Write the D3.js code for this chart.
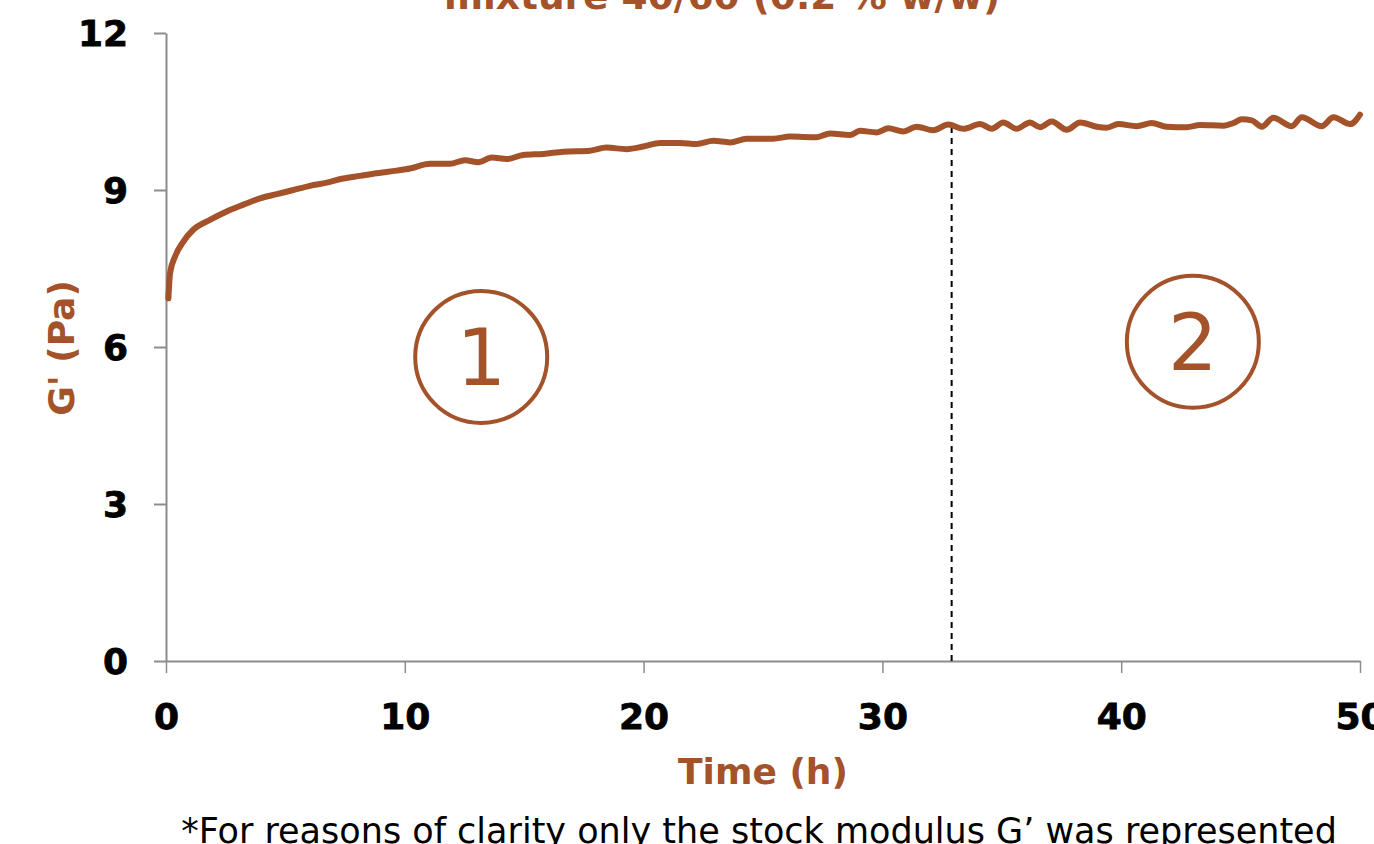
<!DOCTYPE html>
<html>
<head>
<meta charset="utf-8">
<script src="https://cdn.jsdelivr.net/npm/d3@7"></script>
<style>
  html, body { margin: 0; padding: 0; background: #fff; overflow: hidden; }
  svg { display: block; }
</style>
</head>
<body>
<svg id="chart" width="1374" height="844"></svg>
<script>
// ---- data ----
const titleText = "mixture 40/60 (0.2 % w/w)";
const xLabel = "Time (h)";
const yLabel = "G' (Pa)";
const footnote = "*For reasons of clarity only the stock modulus G\u2019 was represented";
const xTicks = [0, 10, 20, 30, 40, 50];
const yTicks = [0, 3, 6, 9, 12];
const time = [0.10, 0.17, 0.38, 0.72, 1.14, 1.84, 2.54, 3.24, 3.94, 4.64, 5.33, 6.03, 6.73, 7.42, 8.12, 8.82, 9.66, 10.22, 11.06, 11.89, 12.52, 13.08, 13.64, 14.27, 14.96, 15.80, 16.64, 17.76, 18.45, 19.29, 19.99, 20.69, 21.52, 22.22, 22.92, 23.62, 24.32, 25.43, 26.13, 27.25, 27.81, 28.64, 29.06, 29.76, 30.25, 30.87, 31.43, 32.13, 32.76, 33.39, 34.09, 34.58, 35.06, 35.62, 36.18, 36.60, 37.09, 37.72, 38.28, 38.97, 39.39, 39.88, 40.65, 41.28, 41.90, 42.74, 43.30, 44.28, 44.70, 45.05, 45.47, 45.89, 46.37, 47.14, 47.56, 48.40, 48.89, 49.59, 50.0];
const gPrime = [6.93, 7.41, 7.73, 8.01, 8.24, 8.43, 8.59, 8.72, 8.84, 8.92, 9.00, 9.08, 9.14, 9.22, 9.27, 9.32, 9.37, 9.41, 9.50, 9.50, 9.57, 9.53, 9.62, 9.59, 9.67, 9.69, 9.73, 9.75, 9.81, 9.78, 9.83, 9.90, 9.90, 9.88, 9.94, 9.91, 9.98, 9.98, 10.02, 10.01, 10.08, 10.05, 10.13, 10.10, 10.18, 10.12, 10.21, 10.14, 10.25, 10.17, 10.26, 10.17, 10.29, 10.17, 10.29, 10.20, 10.31, 10.15, 10.29, 10.21, 10.19, 10.26, 10.22, 10.28, 10.21, 10.20, 10.24, 10.23, 10.28, 10.35, 10.33, 10.21, 10.38, 10.22, 10.39, 10.22, 10.39, 10.26, 10.44];
const phaseBoundary = { t: 32.9, top: 10.19 };
const zoneLabels = ["1", "2"];
const zoneT = [13.2, 43.0];
const zoneG = [5.81, 6.10];

// ---- styles ----
const accent = "#A4522A";
const axisColor = "#8c8c8c";
const fontFamily = "'DejaVu Sans', Verdana, sans-serif";

const svg = d3.select("#chart");
const margin = { left: 166, right: 14, top: 33, bottom: 183 };
const W = 1374, H = 844;

const x = d3.scaleLinear().domain([0, 50]).range([margin.left, W - margin.right]);
const y = d3.scaleLinear().domain([0, 12]).range([H - margin.bottom, margin.top]);

// y axis
const yAxis = svg.append("g")
  .attr("transform", `translate(${x(0)},0)`)
  .call(d3.axisLeft(y).tickValues(yTicks).tickSize(12).tickSizeOuter(0).tickPadding(26));
yAxis.select(".domain").attr("stroke", axisColor).attr("stroke-width", 2);
yAxis.selectAll(".tick line").attr("stroke", axisColor).attr("stroke-width", 2);
yAxis.selectAll(".tick text")
  .attr("font-family", fontFamily).attr("font-weight", "bold")
  .attr("font-size", 36).attr("fill", "#000")
  .attr("stroke", "#000").attr("stroke-width", 0.8)
  .attr("dy", "0.36em");

// x axis
const xAxis = svg.append("g")
  .attr("transform", `translate(0,${y(0)})`)
  .call(d3.axisBottom(x).tickValues(xTicks).tickSize(12).tickSizeOuter(0).tickPadding(30));
xAxis.select(".domain").attr("stroke", axisColor).attr("stroke-width", 2);
xAxis.selectAll(".tick line").attr("stroke", axisColor).attr("stroke-width", 1.5);
xAxis.selectAll(".tick text")
  .attr("font-family", fontFamily).attr("font-weight", "bold")
  .attr("font-size", 36).attr("fill", "#000")
  .attr("stroke", "#000").attr("stroke-width", 0.8);

// dashed boundary
svg.append("line")
  .attr("x1", x(phaseBoundary.t)).attr("x2", x(phaseBoundary.t))
  .attr("y1", y(0)).attr("y2", y(phaseBoundary.top))
  .attr("stroke", "#000").attr("stroke-width", 2)
  .attr("stroke-dasharray", "6,5");

// curve
const pts = time.map((t, i) => [t, gPrime[i]]);
svg.append("path")
  .datum(pts)
  .attr("fill", "none")
  .attr("stroke", accent)
  .attr("stroke-width", 6)
  .attr("stroke-linejoin", "round")
  .attr("stroke-linecap", "round")
  .attr("d", d3.line().x(d => x(d[0])).y(d => y(d[1])).curve(d3.curveMonotoneX));

// zone circles
zoneLabels.forEach((lab, i) => {
  const cx = x(zoneT[i]), cy = y(zoneG[i]);
  svg.append("circle").attr("cx", cx).attr("cy", cy).attr("r", 66)
    .attr("fill", "none").attr("stroke", accent).attr("stroke-width", 4);
  svg.append("text").attr("x", cx).attr("y", cy)
    .attr("text-anchor", "middle").attr("dy", "0.36em")
    .attr("font-family", fontFamily).attr("font-size", 78)
    .attr("fill", accent).text(lab);
});

// title (cut off at top)
svg.append("text")
  .attr("x", 722).attr("y", 9)
  .attr("text-anchor", "middle")
  .attr("font-family", fontFamily).attr("font-weight", "bold")
  .attr("font-size", 37.5).attr("fill", accent)
  .text(titleText);

// x label
svg.append("text")
  .attr("x", 763).attr("y", 784)
  .attr("text-anchor", "middle")
  .attr("font-family", fontFamily).attr("font-weight", "bold")
  .attr("font-size", 36).attr("fill", accent)
  .text(xLabel);

// y label
svg.append("text")
  .attr("transform", `translate(74,348) rotate(-90)`)
  .attr("text-anchor", "middle")
  .attr("font-family", fontFamily).attr("font-weight", "bold")
  .attr("font-size", 36).attr("fill", accent)
  .text(yLabel);

// footnote
svg.append("text")
  .attr("x", 759).attr("y", 843)
  .attr("text-anchor", "middle")
  .attr("font-family", fontFamily)
  .attr("font-size", 35).attr("fill", "#000")
  .text(footnote);
</script>
</body>
</html>
